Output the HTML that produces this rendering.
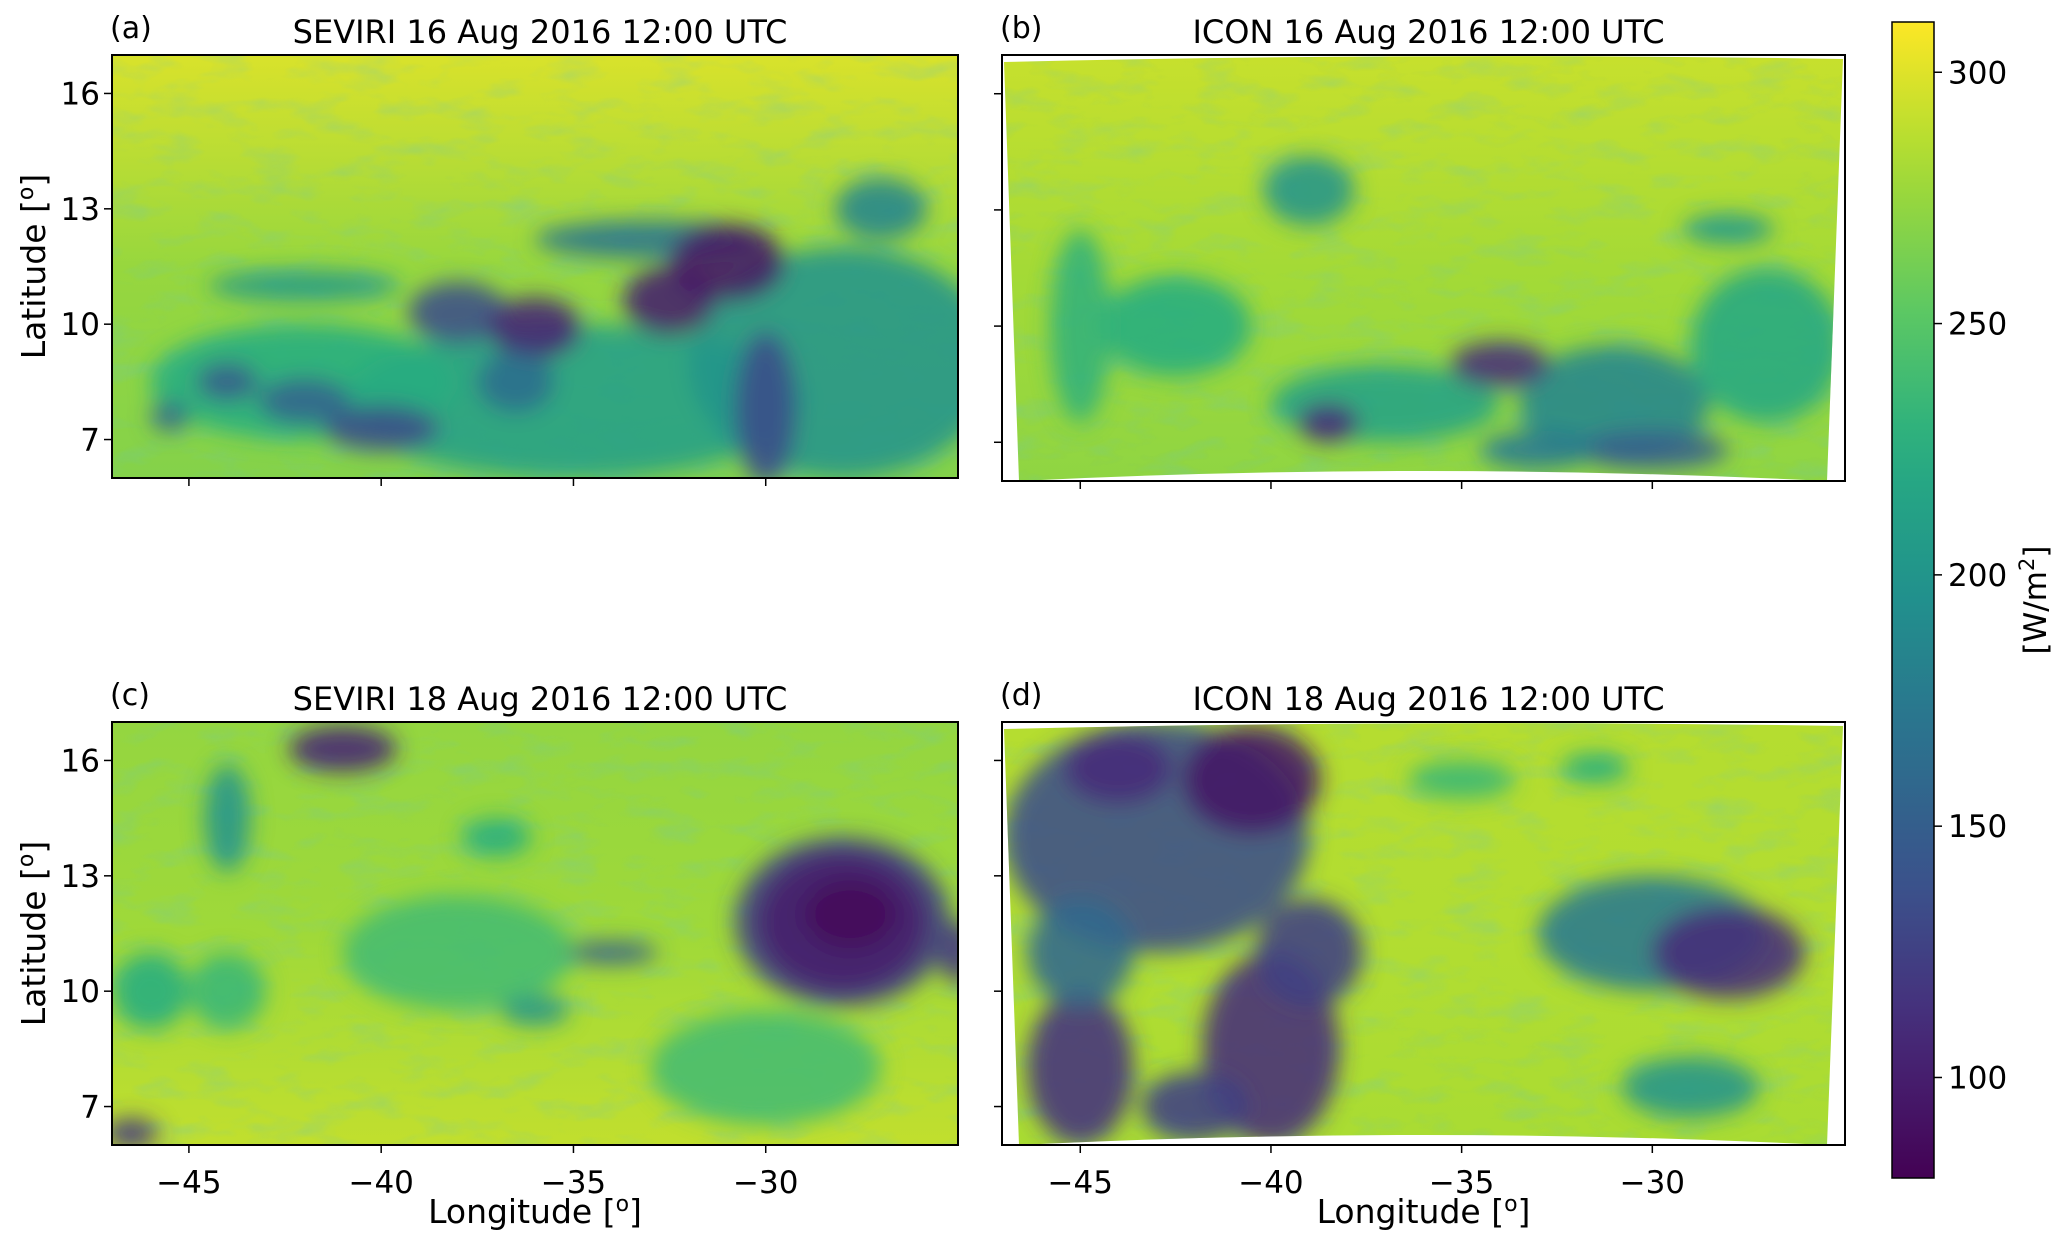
<!DOCTYPE html>
<html><head><meta charset="utf-8">
<style>
html,body{margin:0;padding:0;background:#fff;}
svg{display:block;font-family:"DejaVu Sans","Liberation Sans",sans-serif;}
</style></head>
<body>
<svg id="fig" width="2067" height="1251" viewBox="0 0 2067 1251" xmlns="http://www.w3.org/2000/svg">
<defs>
<filter id="blur" x="-20%" y="-20%" width="140%" height="140%"><feGaussianBlur stdDeviation="11"/></filter>
<filter id="tex" x="0" y="0" width="100%" height="100%">
<feTurbulence type="fractalNoise" baseFrequency="0.02 0.05" numOctaves="3" seed="5" result="n"/>
<feColorMatrix in="n" type="matrix" values="0 0 0 0 0.13  0 0 0 0 0.56  0 0 0 0 0.55  0 0 0 1.6 -0.75"/>
</filter>
<clipPath id="clipA"><rect x="112" y="55" width="846" height="423"/></clipPath>
<clipPath id="clipB"><path d="M1004,62 Q1423,52 1843,59 L1827,481 Q1423,461 1019,481 Z"/></clipPath>
<clipPath id="clipC"><rect x="112" y="722" width="846" height="423"/></clipPath>
<clipPath id="clipD"><path d="M1004,729 Q1423,719 1843,726 L1827,1145 Q1423,1125 1019,1145 Z"/></clipPath>
<linearGradient id="cbar" x1="0" y1="1" x2="0" y2="0"></linearGradient>
</defs>
<g id="panels"></g>
<g id="cb"></g>
</svg>
<script>
// ---- data ----
const lonTicks = [-45, -40, -35, -30];
const latTicks = [7, 10, 13, 16];
const cbTicks = [100, 150, 200, 250, 300];
const cbRange = [80, 310];
const lonRange = [-47, -25];
const latRange = [6, 17];
const titles = ["SEVIRI 16 Aug 2016 12:00 UTC","ICON 16 Aug 2016 12:00 UTC","SEVIRI 18 Aug 2016 12:00 UTC","ICON 18 Aug 2016 12:00 UTC"];
const labels = ["(a)","(b)","(c)","(d)"];
// cloud features: [lon, lat, rxDeg, ryDeg, value W/m2]
const cloudsA = [[-35,8,6,2,210],[-28,9,4,3,200],[-42,8.5,4,1.5,225],[-33,12.2,3,0.5,170],[-27,13,1.2,0.8,185],[-42,11,2.5,0.4,205],[-38,10.3,1.3,0.8,135],[-36,9.9,1.2,0.8,105],[-32.5,10.6,1.2,0.9,100],[-31,11.6,1.5,1,95],[-40,7.3,1.5,0.6,135],[-42,8,1.2,0.6,155],[-44,8.5,0.8,0.5,150],[-30,7.8,0.8,2,135],[-45.5,7.6,0.5,0.4,160],[-36.5,8.5,1,0.8,165]];
const baseA = [275, 298, 268];
const cloudsB = [[-37,8,3,1,215],[-31,8,2.5,1.5,185],[-42.5,10,2,1.3,225],[-39,13.5,1.2,0.9,200],[-27,9.5,2,2,220],[-45,10,0.8,2.5,230],[-30,6.8,2,0.5,150],[-34,9,1.3,0.6,110],[-38.5,7.5,0.8,0.5,110],[-33,6.8,1.5,0.5,175],[-28,12.5,1.2,0.4,205]];
const baseB = [280, 292, 272];
const cloudsC = [[-38,11,3,1.5,240],[-30,8,3,1.5,240],[-46,10,1,1,225],[-44,10,1,1,235],[-28,11.8,2.8,2.2,125],[-28,11.8,2.2,1.8,100],[-27.8,12,1.2,0.9,85],[-41,16.3,1.4,0.6,105],[-44,14.5,0.6,1.4,200],[-36,9.5,0.9,0.4,200],[-34,11,1.2,0.3,150],[-25,11,0.5,0.8,120],[-46.5,6.3,0.7,0.4,120],[-37,14,0.9,0.5,225]];
const baseC = [278, 274, 290];
const cloudsD = [[-43,14,4,3,135],[-40.5,15.5,1.8,1.4,95],[-44,15.8,1.4,0.9,110],[-40,8.5,1.8,2.5,110],[-39,11,1.4,1.4,125],[-45,8,1.4,2,115],[-45,11,1.4,1.4,160],[-30,11.5,3,1.5,175],[-28,11,2,1.2,110],[-29,7.5,1.8,0.8,200],[-42,7,1.4,0.9,125],[-35,15.5,1.4,0.5,235],[-31.5,15.8,0.9,0.4,225]];
const baseD = [285, 286, 282];

// ---- helpers ----
const VIR = [[0,[68,1,84]],[0.13,[71,44,122]],[0.25,[59,81,139]],[0.38,[44,113,142]],[0.5,[33,144,141]],[0.63,[39,173,129]],[0.75,[92,200,99]],[0.88,[170,220,50]],[1,[253,231,37]]];
function viridis(v){
  let t=(v-cbRange[0])/(cbRange[1]-cbRange[0]); t=Math.max(0,Math.min(1,t));
  for(let i=1;i<VIR.length;i++){ if(t<=VIR[i][0]){ const a=VIR[i-1],b=VIR[i]; const f=(t-a[0])/(b[0]-a[0]);
    return 'rgb('+a[1].map((c,k)=>Math.round(c+(b[1][k]-c)*f)).join(',')+')'; } }
  return 'rgb(253,231,37)';
}
const NS='http://www.w3.org/2000/svg';
function el(tag, attrs, parent){ const e=document.createElementNS(NS,tag); for(const k in attrs) e.setAttribute(k,attrs[k]); parent.appendChild(e); return e; }

const panels=[
 {x0:112,x1:958,y0:55,y1:478,clip:'clipA',clouds:cloudsA,base:baseA,xl:false,yl:true,sx:112,sx1:958},
 {x0:1002,x1:1845,y0:55,y1:481,clip:'clipB',clouds:cloudsB,base:baseB,xl:false,yl:false,sx:1004,sx1:1843},
 {x0:112,x1:958,y0:722,y1:1145,clip:'clipC',clouds:cloudsC,base:baseC,xl:true,yl:true,sx:112,sx1:958},
 {x0:1002,x1:1845,y0:722,y1:1145,clip:'clipD',clouds:cloudsD,base:baseD,xl:true,yl:false,sx:1004,sx1:1843}
];
const root=document.getElementById('panels');
panels.forEach((p,i)=>{
  const g=el('g',{},root);
  
  
  const xs=lon=>p.sx+(lon-lonRange[0])/(lonRange[1]-lonRange[0])*(p.sx1-p.sx);
  const ys=lat=>p.y1-(lat-latRange[0])/(latRange[1]-latRange[0])*(p.y1-p.y0);
  const gid='bg'+i;
  const defs=document.querySelector('defs');
  const lg=el('linearGradient',{id:gid,x1:0,y1:0,x2:0,y2:1},defs);
  el('stop',{offset:'0',  'stop-color':viridis(p.base[1])},lg);
  el('stop',{offset:'0.5','stop-color':viridis(p.base[0])},lg);
  el('stop',{offset:'1',  'stop-color':viridis(p.base[2])},lg);
  const mg=el('g',{'clip-path':'url(#'+p.clip+')'},g);
  const bg=el('rect',{x:p.x0,y:p.y0,width:p.x1-p.x0,height:p.y1-p.y0,fill:'url(#'+gid+')'},mg);
  
  
  el('rect',{x:p.x0,y:p.y0,width:p.x1-p.x0,height:p.y1-p.y0,filter:'url(#tex)',opacity:0.35},mg);
  const cg=el('g',{filter:'url(#blur)'},mg);
  p.clouds.forEach(c=>{
    const e=el('ellipse',{cx:xs(c[0]),cy:ys(c[1]),rx:c[2]*(p.sx1-p.sx)/22,ry:c[3]*(p.y1-p.y0)/11,fill:viridis(c[4]),opacity:0.88},cg);
    
    
  });
  const fr=el('rect',{x:p.x0,y:p.y0,width:p.x1-p.x0,height:p.y1-p.y0,fill:'none',stroke:'#000','stroke-width':2},g);
  
  
  lonTicks.forEach(v=>{
    const x=xs(v);
    el('line',{x1:x,x2:x,y1:p.y1,y2:p.y1+8,stroke:'#000','stroke-width':1.5},g);
    if(p.xl){ const t=el('text',{x:x,y:p.y1+48,'text-anchor':'middle','font-size':31},g); t.textContent='\u2212'+Math.abs(v);
        }
  });
  latTicks.forEach(v=>{
    const y=ys(v);
    el('line',{x1:p.x0-8,x2:p.x0,y1:y,y2:y,stroke:'#000','stroke-width':1.5},g);
    if(p.yl){ const t=el('text',{x:p.x0-12,y:y+11,'text-anchor':'end','font-size':31},g); t.textContent=v;
        }
  });
  const tt=el('text',{x:(p.x0+p.x1)/2+5,y:p.y0-12,'text-anchor':'middle','font-size':32},g); tt.textContent=titles[i];
   
  const pl=el('text',{x:p.x0-2,y:p.y0-17,'font-size':30},g); pl.textContent=labels[i];
   
  if(p.xl){ const t=el('text',{x:(p.x0+p.x1)/2,y:1223,'text-anchor':'middle','font-size':33},g); t.innerHTML='Longitude [<tspan baseline-shift="super" font-size="22">o</tspan>]';
      }
  if(p.yl){ const cy=(p.y0+p.y1)/2; const t=el('text',{x:0,y:0,transform:'translate(45,'+cy+') rotate(-90)','text-anchor':'middle','font-size':33},g); t.innerHTML='Latitude [<tspan baseline-shift="super" font-size="22">o</tspan>]';
      }
});
// colorbar
const cb=document.getElementById('cb');


const cbx=1892,cbw=42,cby0=22,cby1=1178;
const cys=v=>cby1-(v-cbRange[0])/(cbRange[1]-cbRange[0])*(cby1-cby0);
const lgc=document.getElementById('cbar');
for(let k=0;k<=20;k++){ const v=cbRange[0]+k/20*(cbRange[1]-cbRange[0]); el('stop',{offset:k/20,'stop-color':viridis(v)},lgc); }
el('rect',{x:cbx,y:cby0,width:cbw,height:cby1-cby0,fill:'url(#cbar)',stroke:'#000','stroke-width':1.5},cb);
cbTicks.forEach(v=>{
  const y=cys(v);
  el('line',{x1:cbx+cbw,x2:cbx+cbw+8,y1:y,y2:y,stroke:'#000','stroke-width':1.5},cb);
  const t=el('text',{x:cbx+cbw+14,y:y+11,'font-size':31},cb); t.textContent=v;
   
});
const ct=el('text',{x:0,y:0,transform:'translate(2046,600) rotate(-90)','text-anchor':'middle','font-size':31},cb);
ct.innerHTML='[W/m<tspan baseline-shift="super" font-size="21">2</tspan>]';


</script>
</body></html>
